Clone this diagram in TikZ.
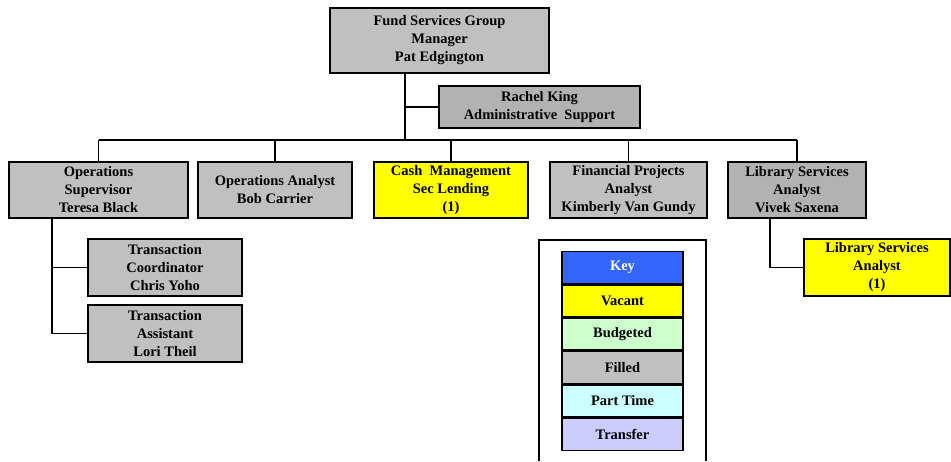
\documentclass[tikz,border=0pt]{standalone}
\usepackage{fontspec}
\setmainfont{Liberation Serif}
\usepackage{tikz}
\usetikzlibrary{positioning, calc}
\definecolor{filled}{HTML}{C0C0C0}
\definecolor{filleddark}{HTML}{B2B2B2}
\definecolor{vacant}{HTML}{FFFF00}
\definecolor{budgeted}{HTML}{CCFFCC}
\definecolor{parttime}{HTML}{CCFFFF}
\definecolor{transfer}{HTML}{CCCCFF}
\definecolor{keyblue}{HTML}{3366FF}
\tikzset{
	post/.style={rectangle, draw, line width=2pt, align=center, inner sep=0pt,
		font=\fontsize{14.5}{18}\selectfont\bfseries, fill=filled, minimum height=56pt},
	keycell/.style={rectangle, draw, line width=1.8pt, align=center, inner sep=0pt,
		font=\fontsize{14.5}{18}\selectfont\bfseries, minimum width=121pt, minimum height=32pt},
	link/.style={line width=1.7pt}
}

\begin{document}
\begin{tikzpicture}[x=1pt, y=-1pt]
        \useasboundingbox (0,0) rectangle (951,461);

        \node[post, minimum width=219pt, minimum height=65pt] (fsg) at (439.5, 40.5) {Fund Services Group\\Manager\\Pat Edgington};
        \node[post, fill=filleddark, minimum width=201pt, minimum height=42pt] (rk) at (539.5, 107) {Rachel King\\Administrative\ \ Support};

        \node[post, minimum width=179pt] (os) at (98.5, 190) {Operations\\Supervisor\\Teresa Black};
        \node[post, minimum width=154pt] (oa) at (275, 190) {Operations Analyst\\Bob Carrier};
        \node[post, fill=vacant, minimum width=154pt] (cm) at (451, 190) {Cash\ \ Management\\Sec Lending\\(1)};
        \node[post, minimum width=157pt] (fp) at (628.5, 190) {Financial Projects\\Analyst\\Kimberly Van Gundy};
        \node[post, fill=filleddark, minimum width=138pt] (ls) at (797, 190) {Library Services\\Analyst\\Vivek Saxena};

        \node[post, minimum width=154pt, minimum height=57pt] (tc) at (165, 267.5) {Transaction\\Coordinator\\Chris Yoho};
        \node[post, minimum width=154pt, minimum height=57pt] (ta) at (165, 333.5) {Transaction\\Assistant\\Lori Theil};
        \node[post, fill=vacant, minimum width=146pt, minimum height=57pt] (lsa) at (877, 267.5) {Library Services\\Analyst\\(1)};

        \coordinate (bus) at (0, 140);
        \coordinate (osdrop) at (52, 0);
        \coordinate (lsdrop) at (770, 0);

        \draw[link] (fsg.south -| rk.west) ++(-33,0) coordinate (stem) -- (stem |- bus);
        \draw[link] (stem |- rk.west) -- (rk.west);
        \draw[link] (os.north |- bus) -- (ls.north |- bus);
        \draw[link] (os.north |- bus) -- (os.north);
        \draw[link] (oa.north |- bus) -- (oa.north);
        \draw[link] (cm.north |- bus) -- (cm.north);
        \draw[link] (fp.north |- bus) -- (fp.north);
        \draw[link] (ls.north |- bus) -- (ls.north);
        \draw[link] (os.south -| osdrop) |- (tc.west);
        \draw[link] (os.south -| osdrop) |- (ta.west);
        \draw[link] (ls.south -| lsdrop) |- (lsa.west);

        % key
        \draw[link] (539, 461) -- (539, 240) -- (706, 240) -- (706, 461);
        \node[keycell, fill=keyblue, text=white] (key) at (622.5, 267.5) {Key};
        \node[keycell, fill=vacant] (kvac) at (622.5, 301) {Vacant};
        \node[keycell, fill=budgeted] (kbud) at (622.5, 334) {Budgeted};
        \node[keycell, fill=filled] (kfil) at (622.5, 367.5) {Filled};
        \node[keycell, fill=parttime] (kpt) at (622.5, 401) {Part Time};
        \node[keycell, fill=transfer] (ktr) at (622.5, 434.5) {Transfer};
    \end{tikzpicture}
\end{document}
